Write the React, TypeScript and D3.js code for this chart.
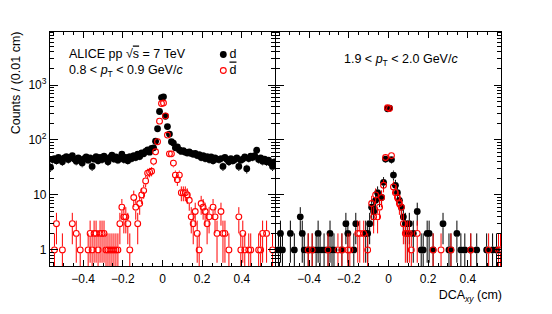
import React from 'react';
import * as d3 from 'd3';

// ---- data ----
const binLow = -0.57;
const binWidth = 0.01;
const xTickValues = [-0.4, -0.2, 0, 0.2, 0.4];
const yMajorValues = [1, 10, 100, 1000];
const yTickLabels = ['1', '10', '10', '10'];
const yTickSup = ['', '', '2', '3'];

// 0.8 < pT < 0.9, deuterons
const leftD = [
  32, 44, 46, 42, 48, 45, 40, 47, 50, 44,
  48, 52, 45, 41, 47, 44, 38, 46, 49, 43,
  47, 33, 45, 50, 42, 48, 44, 51, 46, 40,
  48, 53, 45, 49, 43, 47, 55, 44, 48, 42,
  50, 46, 52, 48, 55, 50, 58, 56, 62, 66,
  60, 70, 72, 95, 160, 330, 590, 610, 270, 175,
  128, 93, 88, 72, 75, 66, 62, 64, 60, 58,
  61, 57, 55, 57, 52, 54, 48, 52, 46, 50,
  44, 49, 42, 47, 45, 44, 46, 33, 48, 44,
  40, 46, 42, 44, 47, 33, 43, 45, 49, 30,
  46, 51, 48, 52, 65, 44, 47, 41, 45, 40,
  43, 38, 33, 40,
];
// 0.8 < pT < 0.9, anti-deuterons
const leftDbar = [
  0, 0, 1, 3, 0, 0, 1, 0, 0, 0,
  0, 3, 0, 2, 0, 1, 0, 0, 0, 1,
  2, 1, 2, 2, 1, 2, 2, 2, 1, 1,
  1, 1, 1, 1, 1, 3, 6, 4, 4, 3,
  1, 0, 9, 6, 3, 7, 10, 12, 18, 25,
  26, 27, 41, 61, 93, 220, 460, 470, 275, 123,
  56, 56, 38, 23, 19, 23, 11, 11, 11, 10,
  8, 4, 3, 5, 2, 1, 7, 6, 5, 3,
  4, 0, 6, 4, 2, 0, 5, 2, 2, 0,
  1, 0, 0, 0, 0, 4, 1, 2, 1, 0,
  1, 1, 0, 0, 0, 1, 1, 2, 0, 2,
  0, 0, 1, 0,
];
// 1.9 < pT < 2.0, deuterons
const rightD = [
  0, 1, 2, 1, 0, 0, 0, 2, 0, 1,
  0, 0, 4, 2, 1, 0, 1, 0, 1, 0,
  1, 2, 1, 0, 1, 0, 1, 2, 1, 1,
  0, 0, 0, 1, 0, 3, 2, 0, 0, 1,
  3, 0, 0, 0, 0, 2, 2, 3, 6, 5,
  8, 11, 9, 9, 17, 45, 370, 380, 44, 23,
  15, 11, 8, 6, 4, 3, 2, 3, 0, 2,
  0, 5, 0, 1, 1, 0, 2, 2, 0, 1,
  0, 0, 0, 0, 3, 0, 0, 1, 1, 0,
  0, 2, 0, 1, 0, 1, 0, 0, 1, 0,
  0, 1, 0, 0, 0, 0, 1, 0, 0, 1,
  0, 1, 0, 0,
];
// 1.9 < pT < 2.0, anti-deuterons
const rightDbar = [
  0, 0, 0, 0, 0, 0, 0, 0, 0, 0,
  0, 0, 0, 0, 0, 0, 1, 0, 1, 0,
  0, 0, 0, 0, 0, 0, 1, 0, 0, 0,
  0, 1, 0, 1, 0, 0, 1, 1, 0, 0,
  0, 2, 2, 0, 2, 0, 1, 0, 7, 4,
  10, 4, 6, 9, 15, 48, 385, 375, 52, 14,
  11, 9, 7, 6, 3, 2, 2, 2, 1, 0,
  0, 2, 0, 0, 0, 0, 0, 0, 0, 1,
  0, 0, 0, 1, 0, 0, 0, 0, 1, 0,
  0, 0, 0, 0, 0, 0, 0, 0, 1, 0,
  0, 0, 0, 0, 0, 0, 0, 1, 0, 0,
  0, 0, 1, 1,
];

const FONT = '"Liberation Sans", Arial, Helvetica, sans-serif';
const TOP = 31;
const BOTTOM = 266.5;
const R = 3.4;
const TXT = 12.5;

function Series({ counts, xs, y, filled, color }: any) {
  const els: any[] = [];
  counts.forEach((v: number, i: number) => {
    if (v <= 0) return;
    const cx = xs(binLow + binWidth * (i + 0.5));
    const cy = y(v);
    const e = Math.sqrt(v);
    const yUp = y(v + e);
    const yLo = v - e > 0.5 ? y(v - e) : BOTTOM + 2;
    if (yUp < cy - R) els.push(<line key={'u' + i} x1={cx} x2={cx} y1={yUp} y2={cy - R} stroke={color} strokeWidth={1} />);
    if (yLo > cy + R) els.push(<line key={'l' + i} x1={cx} x2={cx} y1={cy + R} y2={yLo} stroke={color} strokeWidth={1} />);
  });
  counts.forEach((v: number, i: number) => {
    if (v <= 0) return;
    const cx = xs(binLow + binWidth * (i + 0.5));
    const cy = y(v);
    els.push(
      <circle key={'m' + i} cx={cx} cy={cy} r={filled ? R : R - 0.5}
        fill={filled ? color : 'none'} stroke={color} strokeWidth={filled ? 0 : 1.1} />
    );
  });
  return <g>{els}</g>;
}

function PT({ lo, hi }: { lo: string; hi: string }) {
  return (
    <>
      {lo} &lt; <tspan fontStyle="italic">p</tspan>
      <tspan fontSize={8.5} dy={3}>T</tspan>
      <tspan dy={-3}> &lt; {hi} GeV/</tspan>
      <tspan fontStyle="italic">c</tspan>
    </>
  );
}

export default function App() {
  const y = d3.scaleLog().domain([0.5, 9600]).range([BOTTOM, TOP]);
  const panels = [
    { x0: 49.5, x1: 275.5, d: leftD, a: leftDbar, id: 'pl' },
    { x0: 275.5, x1: 501.5, d: rightD, a: rightDbar, id: 'pr' },
  ];
  const xMinor = d3.range(-11, 12).map((k) => k * 0.05).filter((v) => !xTickValues.some((t) => Math.abs(t - v) < 1e-6));
  const yMinor: number[] = [];
  [0.1, 1, 10, 100, 1000].forEach((dec) => {
    for (let m = 2; m <= 9; m++) {
      const v = m * dec;
      if (v >= 0.5 && v <= 9600) yMinor.push(v);
    }
  });
  const fmt = d3.format('.1f');

  return (
    <svg width={552} height={314} style={{ display: 'block', position: 'absolute', left: 0, top: 0 }} fontFamily={FONT}>
      <rect x={0} y={0} width={552} height={314} fill="#fff" />
      <defs>
        {panels.map((p) => (
          <clipPath id={p.id} key={p.id}>
            <rect x={p.x0} y={TOP} width={p.x1 - p.x0} height={BOTTOM - TOP} />
          </clipPath>
        ))}
      </defs>
      {panels.map((p, pi) => {
        const xs = d3.scaleLinear().domain([-0.57, 0.57]).range([p.x0, p.x1]);
        return (
          <g key={p.id}>
            <g clipPath={`url(#${p.id})`}>
              <Series counts={p.d} xs={xs} y={y} filled color="#000" />
              <Series counts={p.a} xs={xs} y={y} filled={false} color="#ff0000" />
            </g>
            <g stroke="#000" strokeWidth={1} shapeRendering="crispEdges">
              <rect x={p.x0} y={TOP} width={p.x1 - p.x0} height={BOTTOM - TOP} fill="none" />
              {xTickValues.map((v) => (
                <g key={'xm' + v}>
                  <line x1={xs(v)} x2={xs(v)} y1={BOTTOM} y2={BOTTOM - 7} />
                  <line x1={xs(v)} x2={xs(v)} y1={TOP} y2={TOP + 7} />
                </g>
              ))}
              {xMinor.map((v) => (
                <g key={'xn' + v}>
                  <line x1={xs(v)} x2={xs(v)} y1={BOTTOM} y2={BOTTOM - 3.5} />
                  <line x1={xs(v)} x2={xs(v)} y1={TOP} y2={TOP + 3.5} />
                </g>
              ))}
              {yMajorValues.map((v) => (
                <g key={'ym' + v}>
                  <line x1={p.x0} x2={p.x0 + 8} y1={y(v)} y2={y(v)} />
                  <line x1={p.x1} x2={p.x1 - 8} y1={y(v)} y2={y(v)} />
                </g>
              ))}
              {yMinor.map((v) => (
                <g key={'yn' + v}>
                  <line x1={p.x0} x2={p.x0 + 4.5} y1={y(v)} y2={y(v)} />
                  <line x1={p.x1} x2={p.x1 - 4.5} y1={y(v)} y2={y(v)} />
                </g>
              ))}
            </g>
            {xTickValues.map((v) => (
              <text key={'xl' + v} x={xs(v)} y={282.5} fontSize={12} textAnchor="middle">
                {v === 0 ? '0' : fmt(v)}
              </text>
            ))}
            {pi === 0 &&
              yMajorValues.map((v, i) => (
                <text key={'yl' + v} x={46.5} y={y(v) + 4.3} fontSize={12} textAnchor="end">
                  {yTickLabels[i]}
                  {yTickSup[i] && (
                    <tspan fontSize={8.5} dy={-5}>{yTickSup[i]}</tspan>
                  )}
                </text>
              ))}
          </g>
        );
      })}

      {/* annotations */}
      <text x={69} y={57.5} fontSize={TXT}>
        ALICE pp <tspan>√</tspan><tspan style={{ textDecoration: 'overline' }}>s</tspan> = 7 TeV
      </text>
      <text x={69} y={73.5} fontSize={TXT}>
        <PT lo="0.8" hi="0.9" />
      </text>
      <text x={344} y={63} fontSize={TXT}>
        <PT lo="1.9" hi="2.0" />
      </text>

      {/* legend */}
      <circle cx={223.3} cy={54.5} r={R} fill="#000" />
      <text x={229.5} y={57.5} fontSize={TXT}>d</text>
      <circle cx={223.3} cy={70.5} r={R - 0.5} fill="none" stroke="#ff0000" strokeWidth={1.1} />
      <text x={229.5} y={73.5} fontSize={TXT} style={{ textDecoration: 'overline' }}>d</text>

      {/* axis titles */}
      <text transform="translate(19.5,31.5) rotate(-90)" fontSize={TXT} textAnchor="end">
        Counts / (0.01 cm)
      </text>
      <text x={502} y={299.3} fontSize={TXT} textAnchor="end">
        DCA<tspan fontSize={8.5} fontStyle="italic" dy={3}>xy</tspan>
        <tspan dy={-3}> (cm)</tspan>
      </text>
    </svg>
  );
}
